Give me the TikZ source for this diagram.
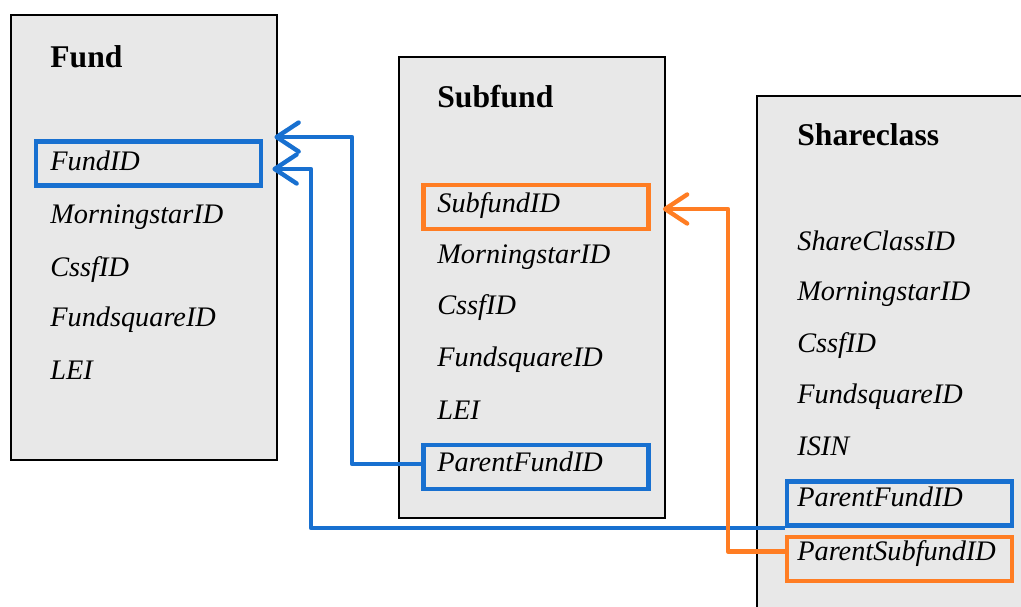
\documentclass[tikz,border=0pt]{standalone}
\usepackage{fontspec}
\setmainfont{Liberation Serif}
\usetikzlibrary{arrows.meta}
\definecolor{keyblue}{RGB}{24,112,208}
\definecolor{keyorange}{RGB}{255,125,35}
\tikzset{
    tbl/.style={draw=black, fill=gray!18, line width=1.1pt},
    head/.style={anchor=base west, inner sep=0pt, font=\fontsize{18}{20}\selectfont\bfseries},
    fld/.style={anchor=base west, inner sep=0pt, font=\fontsize{16.1}{18}\selectfont\itshape},
    keybox/.style={draw=#1, line width=2.8pt, minimum width=4.5cm, minimum height=0.88cm, inner sep=0pt},
    link/.style={draw=#1, line width=2.5pt, line join=round, -{Straight Barb[length=0.44cm,width=0.58cm,round]}}
}
\begin{document}
\begin{tikzpicture}[x=0.02cm, y=-0.02cm]
    \useasboundingbox (0,0) rectangle (1021,606);
    \clip (0,0) rectangle (1021,606);

    % tables
    \draw[tbl] (11,15) rectangle (277,460);
    \draw[tbl] (399,57) rectangle (665,518);
    \draw[tbl] (757,96) rectangle (1060,660);

    \node[head] (fund) at (50,67) {Fund};
    \node[head] (subfund) at (437,107) {Subfund};
    \node[head] (shareclass) at (797,145) {Shareclass};

    % fields
    \foreach \t/\y [count=\i] in {FundID/170, MorningstarID/223, CssfID/276, FundsquareID/326, LEI/379}
        \node[fld] (f\i) at (50,\y) {\t};
    \foreach \t/\y [count=\i] in {SubfundID/212, MorningstarID/263, CssfID/314, FundsquareID/366, LEI/419, ParentFundID/471}
        \node[fld] (s\i) at (437,\y) {\t};
    \foreach \t/\y [count=\i] in {ShareClassID/250, MorningstarID/300, CssfID/352, FundsquareID/403, ISIN/455, ParentFundID/506, ParentSubfundID/560}
        \node[fld] (c\i) at (797,\y) {\t};

    % key boxes
    \node[keybox=keyblue] (fund-id) at (148.5,163.5) {};
    \node[keybox=keyorange] (sub-id) at (536,207) {};
    \node[keybox=keyblue] (sub-pfid) at (536,467) {};
    \node[keybox=keyblue] (sc-pfid) at (899.5,503.5) {};
    \node[keybox=keyorange] (sc-psid) at (899.5,559) {};

    \coordinate (bend1) at (352,0);
    \coordinate (bend2) at (311,0);
    \coordinate (bend3) at (728,0);

    % links
    \draw[link=keyblue] ([yshift=0.06cm]sub-pfid.west) -- ([yshift=0.06cm]sub-pfid.west -| bend1)
        |- ([xshift=0.22cm,yshift=0.04cm]fund-id.north east);
    \draw[link=keyblue] (sc-pfid.south west) -- (sc-pfid.south west -| bend2)
        |- ([xshift=0.18cm,yshift=-0.11cm]fund-id.east);
    \draw[link=keyorange] ([yshift=0.15cm]sc-psid.west) -- ([yshift=0.15cm]sc-psid.west -| bend3)
        |- ([xshift=0.24cm,yshift=-0.04cm]sub-id.east);
\end{tikzpicture}
\end{document}
